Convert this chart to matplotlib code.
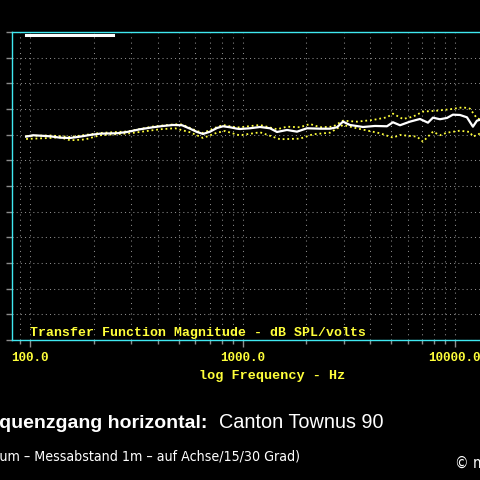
import numpy as np
import matplotlib
matplotlib.use('Agg')
import matplotlib.pyplot as plt
from matplotlib.ticker import LogLocator, NullFormatter, FixedLocator

# on-axis response (white)
freq_axis = [95.8, 103.3, 124.2, 138.4, 154.3, 171.9, 191.6, 213.5, 256.7, 286.1,
             329.4, 379.2, 422.6, 470.9, 519.2, 566.3, 610.8, 651.9, 703.4, 758.6,
             809.6, 873.5, 942.1, 973.3, 1084.6, 1208.8, 1347, 1453.4, 1619.6, 1805.2,
             2011.6, 2316, 2581, 2784, 2971, 3206, 3691, 4203, 4786, 5108,
             5512, 6141, 6843, 7463, 7880, 8500, 9171, 9786, 10556, 11390,
             12152, 12693, 13404]
db_axis = [89.61, 89.88, 89.68, 89.41, 89.35, 89.61, 89.94, 90.19, 90.27, 90.52,
           91.05, 91.44, 91.69, 91.88, 91.83, 91.16, 90.52, 90.13, 90.58, 91.30,
           91.63, 91.44, 91.16, 91.10, 91.24, 91.49, 91.24, 90.52, 90.91, 90.58,
           91.24, 91.16, 91.16, 91.44, 92.53, 91.88, 91.49, 91.69, 91.63, 92.41,
           91.83, 92.53, 93.05, 92.33, 93.31, 93.00, 93.25, 93.89, 93.83, 93.38,
           91.55, 92.72, 93.00]

# 15 degree (yellow dotted, upper)
freq_15 = [95.8, 124.2, 154.3, 213.5, 286.1, 379.2, 481.3, 519.2, 610.8, 651.9,
           758.6, 809.6, 942.1, 973.3, 1208.8, 1453.4, 1619.6, 1864.6, 2078, 2316,
           2666, 2971, 3457, 4113, 4786, 5108, 5691, 6343, 7069, 8228,
           9474, 10906, 11766, 12693, 13404]
db_15 = [89.74, 89.84, 89.55, 90.33, 90.62, 91.59, 92.02, 91.98, 90.71, 90.33,
         91.49, 91.88, 91.40, 91.44, 91.88, 91.05, 91.55, 91.44, 92.08, 91.44,
         91.55, 92.72, 92.53, 92.86, 93.38, 94.09, 93.05, 93.50, 94.48, 94.67,
         94.94, 95.33, 95.06, 93.19, 92.86]

# 30 degree (yellow dotted, lower)
freq_30 = [95.8, 124.2, 138.4, 154.3, 181.5, 213.5, 295.6, 409.1, 481.3, 566.3,
           651.9, 758.6, 827.4, 942.1, 973.3, 1208.8, 1501, 1864.6, 2147, 2581,
           2971, 3571, 4437, 5108, 5512, 6626, 7069, 7880, 8500, 9171,
           10556, 11766, 12152, 13404]
db_30 = [89.16, 89.35, 89.49, 88.90, 89.06, 89.88, 90.27, 91.05, 91.24, 90.46,
         89.35, 90.38, 90.72, 89.99, 89.88, 90.46, 89.10, 89.22, 90.07, 90.38,
         91.88, 91.10, 90.27, 89.41, 89.94, 89.61, 88.63, 90.58, 89.88, 90.38,
         90.77, 90.52, 89.61, 90.38]

major_ticks = [100, 1000, 10000]
major_labels = ['100.0', '1000.0', '10000.0']

yellow = '#ffff3a'
cyan = '#40e8f0'
grey = '#8c8c8c'

fig = plt.figure(figsize=(4.8, 4.8), dpi=100)
fig.patch.set_facecolor('black')
ax = fig.add_axes([0.025, 0.2917, 1.056, 0.6417])
ax.set_facecolor('black')

ax.set_xscale('log')
ax.set_xlim(82.2, 20000)
ax.set_ylim(50, 110)

ax.plot(freq_15, db_15, color=yellow, lw=1.3, linestyle=(0, (1, 1.6)))
ax.plot(freq_30, db_30, color=yellow, lw=1.3, linestyle=(0, (1, 1.6)))
ax.plot(freq_axis, db_axis, color='white', lw=1.6)

# white legend bar under the top frame
ax.axhline(109.45, xmin=0.0276, xmax=0.199, color='white', lw=2.2)

ax.xaxis.set_major_locator(FixedLocator(major_ticks))
ax.xaxis.set_minor_locator(LogLocator(base=10, subs=np.arange(2, 10)))
ax.xaxis.set_minor_formatter(NullFormatter())
ax.set_xticklabels(major_labels)
ax.set_yticks(np.arange(50, 111, 5))
ax.set_yticklabels([])

ax.grid(True, which='both', axis='x', color=grey, lw=0.75, linestyle=(0, (1, 4)))
ax.grid(True, which='major', axis='y', color=grey, lw=0.75, linestyle=(0, (1, 3)))

for side in ax.spines.values():
    side.set_color(cyan)
    side.set_linewidth(1.0)

ax.tick_params(axis='x', which='major', length=5, width=1, color=grey, pad=4,
               labelcolor=yellow, labelsize=9)
ax.tick_params(axis='x', which='minor', length=3, width=1, color=grey)
ax.tick_params(axis='y', which='major', length=4, width=1, color=grey, pad=1)
for lab in ax.get_xticklabels():
    lab.set_family('Liberation Mono')
    lab.set_weight('bold')

ax.text(0.035, 0.0237, 'Transfer Function Magnitude - dB SPL/volts', transform=ax.transAxes,
        color=yellow, family='Liberation Mono', weight='bold', fontsize=9.5, va='center')

fig.text(272 / 480, 1 - 376 / 480, 'log Frequency - Hz', color=yellow,
         family='Liberation Mono', weight='bold', fontsize=9.7, ha='center', va='center')

fig.text(207 / 480, 1 - 423 / 480, 'Frequenzgang horizontal:', color='white',
         family='Liberation Sans', weight='bold', fontsize=14, ha='right', va='center')
fig.text(219 / 480, 1 - 423 / 480, 'Canton Townus 90', color='white',
         family='Liberation Sans', fontsize=14.3, ha='left', va='center')
fig.text(300 / 480, 1 - 457 / 480, '(Hörraum – Messabstand 1m – auf Achse/15/30 Grad)',
         color='white', family='DejaVu Sans', fontstretch='condensed', fontsize=10.2,
         ha='right', va='center')
fig.text(455 / 480, 1 - 463 / 480, '© m', color='white',
         family='DejaVu Sans', fontstretch='condensed', fontsize=11,
         ha='left', va='center')

fig.savefig('out.png', dpi=100, facecolor='black')
